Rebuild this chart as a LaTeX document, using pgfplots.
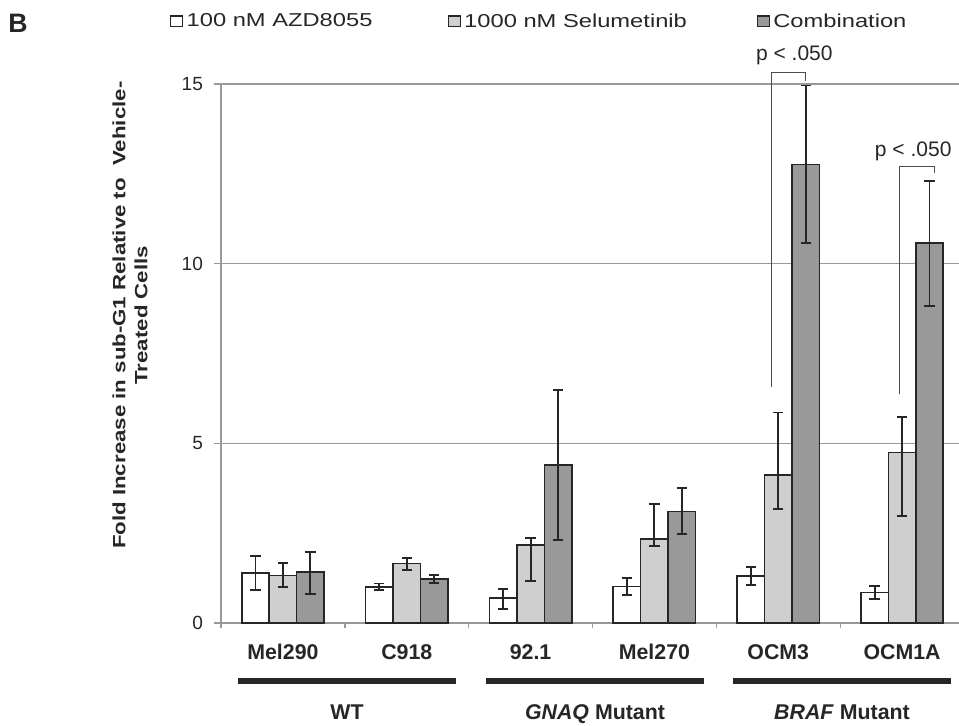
\documentclass[border=0pt]{standalone}
\usepackage{pgfplots}
\pgfplotsset{compat=1.18}
\usepackage{fontspec}
\setmainfont{Liberation Sans}
\newfontfamily\widefont[FakeStretch=1.27]{Liberation Sans}
\newfontfamily\widebold[FakeStretch=1.25]{Liberation Sans Bold}
\definecolor{lightbar}{HTML}{CFCFCF}
\definecolor{darkbar}{HTML}{999999}
\definecolor{gridc}{HTML}{999999}
\definecolor{ink}{HTML}{262626}
\begin{document}
\begin{tikzpicture}[x=0.75pt,y=-0.75pt]
\begin{axis}[
  at={(165.75pt,-467.25pt)}, anchor=south west,
  width=557.25pt, height=404.25pt, scale only axis,
  xmin=-0.5, xmax=5.5, ymin=0, ymax=15,
  clip=false,
  ybar=0pt, bar width=20.6pt,
  axis x line*=bottom, axis y line*=left,
  axis line style={gridc, line width=1.1pt},
  xtick={0,1,2,3,4,5},
  xticklabels={Mel290,C918,92.1,Mel270,OCM3,OCM1A},
  minor xtick={-0.5,0.5,1.5,2.5,3.5,4.5,5.5},
  every major x tick/.style={draw=none},
  every minor tick/.style={gridc, line width=1pt},
  ytick={0,5,10,15},
  every major y tick/.style={gridc, line width=1pt},
  tick align=outside,
  major tick length=5pt, minor tick length=4pt,
  ymajorgrids, major grid style={gridc, line width=1.1pt},
  /pgf/number format/assume math mode=true,
  xticklabel style={font=\bfseries\fontsize{16}{16}\selectfont, text=ink, anchor=base, yshift=-22.5pt},
  yticklabel style={font=\fontsize{14.3}{14}\selectfont, text=ink, anchor=east, xshift=-5pt},
  every axis y label/.style={at={(axis description cs:-0.1225,0.571)}, rotate=90, anchor=center,
     align=center, font=\widebold\fontsize{13.35}{16.5}\selectfont, text=ink},
  ylabel={Fold Increase in sub-G1 Relative to\ \ Vehicle-\\Treated Cells},
  legend columns=3,
  legend style={draw=none, fill=none, at={(axis description cs:-0.0686,1.116)}, anchor=west,
     font=\widefont\fontsize{14}{14}\selectfont, text=ink, inner sep=0pt,
     nodes={inner xsep=2.5pt, inner ysep=0pt},
     /tikz/column 2/.style={column sep=54pt},
     /tikz/column 4/.style={column sep=50pt},
     legend cell align=left},
  legend image code/.code={\draw[#1, draw=ink, line width=0.8pt] (0pt,-4.1pt) rectangle (9pt,4.1pt);},
  error bars/y dir=both, error bars/y explicit,
  error bars/error bar style={ink, line width=1.4pt},
  error bars/error mark options={rotate=90, mark size=3.9pt, line width=1.4pt, ink},
]
\addplot[fill=white, draw=ink, line width=1.2pt] coordinates {
  (0,1.39) += (0,0.47) -= (0,0.47)
  (1,1.01) += (0,0.09) -= (0,0.08)
  (2,0.69) += (0,0.26) -= (0,0.29)
  (3,1.02) += (0,0.23) -= (0,0.23)
  (4,1.30) += (0,0.25) -= (0,0.25)
  (5,0.85) += (0,0.17) -= (0,0.18)
};
\addplot[fill=lightbar, draw=ink, line width=1.2pt] coordinates {
  (0,1.32) += (0,0.35) -= (0,0.32)
  (1,1.66) += (0,0.14) -= (0,0.18)
  (2,2.17) += (0,0.19) -= (0,1.01)
  (3,2.33) += (0,0.98) -= (0,0.18)
  (4,4.12) += (0,1.74) -= (0,0.95)
  (5,4.74) += (0,1.00) -= (0,1.75)
};
\addplot[fill=darkbar, draw=ink, line width=1.2pt] coordinates {
  (0,1.42) += (0,0.56) -= (0,0.62)
  (1,1.22) += (0,0.11) -= (0,0.11)
  (2,4.39) += (0,2.10) -= (0,2.08)
  (3,3.10) += (0,0.65) -= (0,0.63)
  (4,12.76) += (0,2.20) -= (0,2.19)
  (5,10.57) += (0,1.72) -= (0,1.74)
};
\legend{100 nM AZD8055,1000 nM Selumetinib,Combination}
\draw[black!70, line width=0.7pt] (axis cs:3.948,6.57) -- (axis cs:3.948,15.32) -- (axis cs:4.22,15.32) -- (axis cs:4.22,15.09);
\node[font=\fontsize{15.75}{16}\selectfont, text=ink] at (axis cs:4.13,15.79) {p < .050};
\draw[black!70, line width=0.7pt] (axis cs:4.98,6.37) -- (axis cs:4.98,12.70) -- (axis cs:5.26,12.70) -- (axis cs:5.26,12.53);
\node[font=\fontsize{15.75}{16}\selectfont, text=ink] at (axis cs:5.09,13.12) {p < .050};
\end{axis}
\node[font=\bfseries\fontsize{20}{20}\selectfont, text=ink, anchor=base west, inner sep=0pt] at (8,32) {B};
\draw[line width=4.2pt, ink] (238,681) -- (456,681);
\draw[line width=4.2pt, ink] (486,681) -- (704,681);
\draw[line width=4.2pt, ink] (733,681) -- (951,681);
\node[font=\bfseries\fontsize{16}{16}\selectfont, text=ink, anchor=base, inner sep=0pt] at (347,719) {WT};
\node[font=\bfseries\fontsize{16}{16}\selectfont, text=ink, anchor=base, inner sep=0pt] at (595,719) {\textit{GNAQ} Mutant};
\node[font=\bfseries\fontsize{16}{16}\selectfont, text=ink, anchor=base, inner sep=0pt] at (842,719) {\textit{BRAF} Mutant};
\pgfresetboundingbox
\path[use as bounding box] (0,0) rectangle (959,725);
\end{tikzpicture}
\end{document}
